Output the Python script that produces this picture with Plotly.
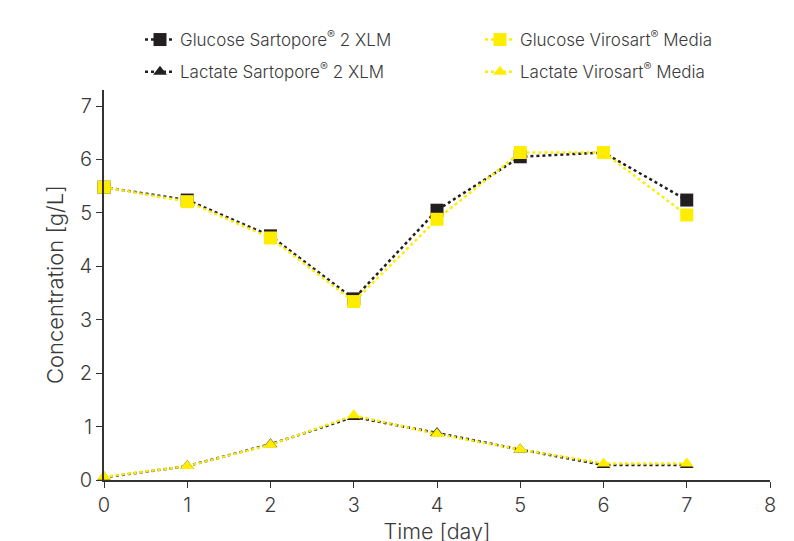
import plotly.graph_objects as go

days = [0, 1, 2, 3, 4, 5, 6, 7]
glucose_sartopore = [5.48, 5.24, 4.57, 3.39, 5.05, 6.05, 6.13, 5.24]
glucose_virosart = [5.48, 5.21, 4.53, 3.34, 4.88, 6.13, 6.13, 4.96]
lactate_sartopore = [0.05, 0.26, 0.67, 1.18, 0.88, 0.57, 0.28, 0.28]
lactate_virosart = [0.06, 0.26, 0.66, 1.21, 0.86, 0.57, 0.31, 0.31]
y_title = "Concentration [g/L]"
x_title = "Time [day]"

BLACK = "#231f20"
YELLOW = "#ffed00"
TEXT = "#3a3a3a"
FONT = "Inter"
WEIGHT = 300
W, H = 794, 541
OFF = 8  # page body offset

fig = go.Figure()

def add(y, name, color, symbol, size, legend, group):
    fig.add_trace(go.Scatter(
        x=days, y=y, name=name, mode="lines+markers",
        line=dict(color=color, width=2.5, dash="dot"),
        marker=dict(color=color, symbol=symbol, size=size),
        cliponaxis=False, legend=legend, legendgroup=group,
    ))

add(glucose_sartopore, "Glucose Sartopore<sup>®</sup> 2 XLM", BLACK, "square", 13, "legend", "a")
add(lactate_sartopore, "Lactate Sartopore<sup>®</sup> 2 XLM", BLACK, "triangle-up", 12, "legend", "b")
add(glucose_virosart, "Glucose Virosart<sup>®</sup> Media", YELLOW, "square", 13, "legend2", "c")
add(lactate_virosart, "Lactate Virosart<sup>®</sup> Media", YELLOW, "triangle-up", 12, "legend2", "d")

leg_common = dict(
    orientation="v", xanchor="left", yanchor="top",
    xref="container", yref="container",
    font=dict(family=FONT, size=17, color=TEXT, weight=WEIGHT), itemwidth=30,
    tracegroupgap=7, bgcolor="rgba(0,0,0,0)",
)

fig.update_layout(
    width=W, height=H,
    margin=dict(l=104 - OFF, r=24 + OFF, t=90 - OFF, b=61 + OFF, autoexpand=False),
    paper_bgcolor="white", plot_bgcolor="white",
    font=dict(family=FONT, color=TEXT, size=18, weight=WEIGHT),
    showlegend=True,
    legend=dict(x=(140 - OFF) / W, y=1 - (22 - OFF) / H, **leg_common),
    legend2=dict(x=(480 - OFF) / W, y=1 - (22 - OFF) / H, **leg_common),
    xaxis=dict(
        range=[0, 8], dtick=1, showgrid=False, zeroline=False,
        showline=True, linecolor="#333333", linewidth=1.5,
        ticks="outside", ticklen=6, tickcolor="#333333",
        title=dict(text=x_title, font=dict(size=21.5, weight=WEIGHT), standoff=8),
        tickfont=dict(size=20, weight=WEIGHT),
    ),
    yaxis=dict(
        range=[0, 7.3], tickvals=[0, 1, 2, 3, 4, 5, 6, 7], showgrid=False, zeroline=False,
        showline=True, linecolor="#333333", linewidth=2,
        ticks="outside", ticklen=6, tickcolor="#333333",
        tickfont=dict(size=20, weight=WEIGHT),
    ),
    annotations=[dict(
        text=y_title, xref="paper", yref="paper",
        x=(55 - 104) / 666, y=0.5, xanchor="center", yanchor="middle",
        textangle=-90, showarrow=False,
        font=dict(family=FONT, size=22, color=TEXT, weight=WEIGHT),
    )],
)

fig.write_html("out.html")
